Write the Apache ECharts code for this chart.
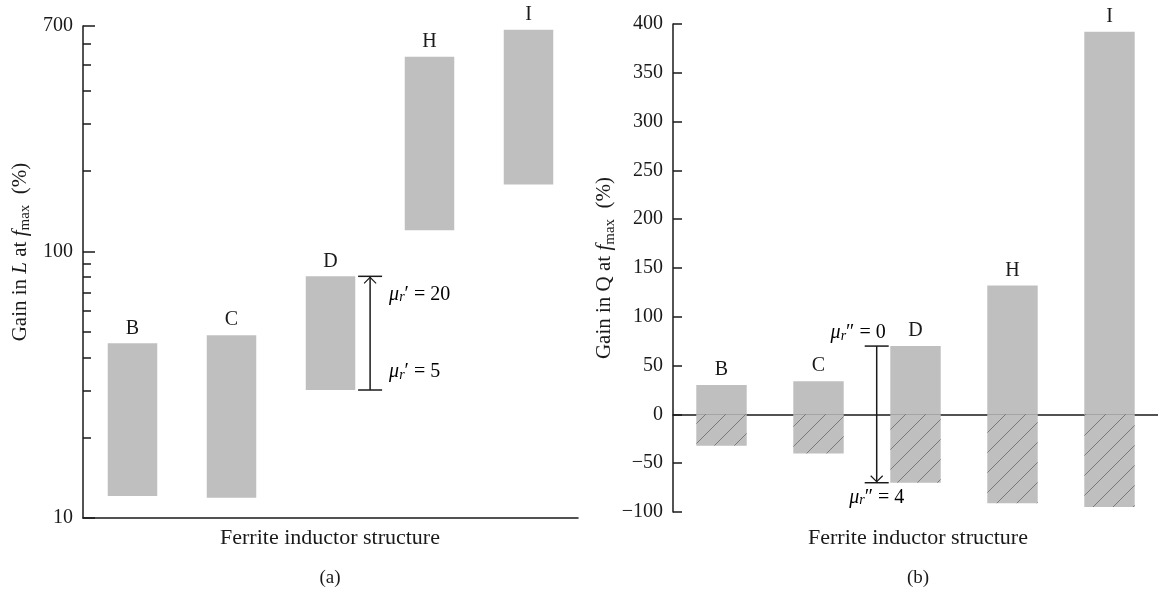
<!DOCTYPE html>
<html>
<head>
    <meta charset="UTF-8">
    <title>ferrite gain</title>
    <script src="https://cdn.jsdelivr.net/npm/echarts@6/dist/echarts.min.js"></script>
    <style>
        body, html {
            margin: 0;
            padding: 0;
            background: #fff;
        }

        #chart {
            width: 1158px;
            height: 593px;
        }
    </style>
</head>
<body>
<div id="chart"></div>
<script>
    var categories = ['B', 'C', 'D', 'H', 'I'];
    // (a) gain in L at fmax, each bar runs from low to high (%)
    var gainLLow = [12.1, 11.9, 30.2, 120, 178];
    var gainLHigh = [45.2, 48.5, 80.6, 537, 678];
    // (b) gain in Q at fmax (%)
    var gainQPos = [30, 34, 70, 132, 392];
    var gainQNeg = [-32, -40, -70, -91, -95];
    // axis ticks
    var lMajorTicks = [10, 100, 700];
    var lMinorTicks = [20, 30, 40, 50, 60, 70, 80, 90, 200, 300, 400, 500, 600];
    var qMin = -100, qMax = 400, qStep = 50;

    var FONT = '"Liberation Serif", "DejaVu Serif", serif';
    var INK = '#1a1a1a';
    var GREY = '#bfbfbf';

    // hatch tile for the negative part of (b)
    var tile = document.createElement('canvas');
    tile.width = 20;
    tile.height = 20;
    var tctx = tile.getContext('2d');
    tctx.fillStyle = GREY;
    tctx.fillRect(0, 0, 20, 20);
    tctx.strokeStyle = '#7a7a7a';
    tctx.lineWidth = 1;
    tctx.beginPath();
    tctx.moveTo(-1, 21);
    tctx.lineTo(21, -1);
    tctx.stroke();

    var muRich = {
        mu: {fontFamily: FONT, fontStyle: 'italic', fontSize: 20, color: INK},
        r: {fontFamily: FONT, fontStyle: 'italic', fontSize: 14, color: INK, verticalAlign: 'bottom', lineHeight: 14},
        t: {fontFamily: FONT, fontSize: 20, color: INK}
    };
    var nameRich = {
        t: {fontFamily: FONT, fontSize: 21, color: INK, lineHeight: 26},
        i: {fontFamily: FONT, fontSize: 21, fontStyle: 'italic', color: INK, lineHeight: 26},
        sub: {fontFamily: FONT, fontSize: 15, color: INK, verticalAlign: 'bottom', lineHeight: 19}
    };

    var chart = echarts.init(document.getElementById('chart'), null, {renderer: 'canvas'});

    var leftData = categories.map(function (c, i) {
        return [i, gainLLow[i], gainLHigh[i]];
    });

    function renderRange(params, api) {
        var i = api.value(0);
        var lo = api.coord([i, api.value(1)]);
        var hi = api.coord([i, api.value(2)]);
        var w = api.size([1, 0])[0] * 0.5;
        return {
            type: 'group',
            children: [
                {
                    type: 'rect',
                    shape: {x: lo[0] - w / 2, y: hi[1], width: w, height: lo[1] - hi[1]},
                    style: {fill: GREY}
                },
                {
                    type: 'text',
                    style: {
                        text: categories[i], x: hi[0], y: hi[1] - 5,
                        align: 'center', verticalAlign: 'bottom',
                        font: '20px ' + FONT, fill: INK
                    }
                }
            ]
        };
    }

    // arrow next to D in (a): from mu' = 5 (bottom) up to mu' = 20 (top)
    function renderArrowL(params, api) {
        var i = api.value(0);
        var band = api.size([1, 0])[0];
        var lo = api.coord([i, api.value(1)]);
        var hi = api.coord([i, api.value(2)]);
        var x = lo[0] + band * 0.4;
        var ls = {stroke: INK, lineWidth: 1.5};
        return {
            type: 'group',
            children: [
                {type: 'line', shape: {x1: x, y1: lo[1], x2: x, y2: hi[1]}, style: ls},
                {type: 'line', shape: {x1: x - 12, y1: lo[1], x2: x + 12, y2: lo[1]}, style: ls},
                {type: 'line', shape: {x1: x - 12, y1: hi[1], x2: x + 12, y2: hi[1]}, style: ls},
                {type: 'polyline', shape: {points: [[x - 6, hi[1] + 7], [x, hi[1] + 1], [x + 6, hi[1] + 7]]}, style: {stroke: INK, lineWidth: 1.2, fill: null}},
                {
                    type: 'text',
                    style: {
                        text: '{mu|μ}{r|r}{t|′ = 20}', rich: muRich, x: x + 19, y: hi[1] + 18,
                        align: 'left', verticalAlign: 'middle'
                    }
                },
                {
                    type: 'text',
                    style: {
                        text: '{mu|μ}{r|r}{t|′ = 5}', rich: muRich, x: x + 19, y: lo[1] - 18,
                        align: 'left', verticalAlign: 'middle'
                    }
                }
            ]
        };
    }

    // arrow next to D in (b): from mu'' = 0 (top) down to mu'' = 4 (bottom)
    function renderArrowQ(params, api) {
        var i = api.value(0);
        var band = api.size([1, 0])[0];
        var top = api.coord([i, api.value(1)]);
        var bot = api.coord([i, api.value(2)]);
        var x = top[0] - band * 0.4;
        var ls = {stroke: INK, lineWidth: 1.5};
        return {
            type: 'group',
            children: [
                {type: 'line', shape: {x1: x, y1: top[1], x2: x, y2: bot[1]}, style: ls},
                {type: 'line', shape: {x1: x - 12, y1: top[1], x2: x + 12, y2: top[1]}, style: ls},
                {type: 'line', shape: {x1: x - 12, y1: bot[1], x2: x + 12, y2: bot[1]}, style: ls},
                {type: 'polyline', shape: {points: [[x - 6, bot[1] - 7], [x, bot[1] - 1], [x + 6, bot[1] - 7]]}, style: {stroke: INK, lineWidth: 1.2, fill: null}},
                {
                    type: 'text',
                    style: {
                        text: '{mu|μ}{r|r}{t|″ = 0}', rich: muRich, x: x + 9, y: top[1] - 3,
                        align: 'right', verticalAlign: 'bottom'
                    }
                },
                {
                    type: 'text',
                    style: {
                        text: '{mu|μ}{r|r}{t|″ = 4}', rich: muRich, x: x, y: bot[1] + 5,
                        align: 'center', verticalAlign: 'top'
                    }
                }
            ]
        };
    }

    var dIdx = categories.indexOf('D');
    var axisLine = {show: true, onZero: false, lineStyle: {color: INK, width: 1.5}};

    var option = {
        animation: false,
        grid: [
            {left: 83, right: 580, top: 26, bottom: 75},
            {left: 673, right: -5, top: 24, bottom: 81}
        ],
        xAxis: [
            {
                gridIndex: 0, type: 'category', data: categories,
                axisLine: axisLine, axisTick: {show: false}, axisLabel: {show: false}
            },
            {
                gridIndex: 1, type: 'category', data: categories,
                axisLine: {show: true, onZero: true, lineStyle: {color: INK, width: 1.5}},
                axisTick: {show: false}, axisLabel: {show: false}
            }
        ],
        yAxis: [
            {
                gridIndex: 0, type: 'log', logBase: 10, min: 10, max: 700, position: 'left',
                axisLine: axisLine,
                axisTick: {show: true, inside: true, length: 12, customValues: lMajorTicks, lineStyle: {color: INK, width: 1.5}},
                axisLabel: {customValues: lMajorTicks, fontFamily: FONT, fontSize: 20, color: INK, margin: 10},
                splitLine: {show: false},
                name: '{t|Gain in }{i|L}{t| at }{i|f}{sub|max}{t|  (%)}',
                nameLocation: 'middle', nameGap: 50,
                nameTextStyle: {rich: nameRich, padding: [0, 0, 0, 40]}
            },
            {
                gridIndex: 0, type: 'log', logBase: 10, min: 10, max: 700, position: 'left', offset: 0,
                axisLine: {show: false},
                axisTick: {show: true, inside: true, length: 8, customValues: lMinorTicks, lineStyle: {color: INK, width: 1.5}},
                axisLabel: {show: false},
                splitLine: {show: false}
            },
            {
                gridIndex: 1, type: 'value', min: qMin, max: qMax, interval: qStep,
                axisLine: axisLine,
                axisTick: {show: true, inside: true, length: 9, lineStyle: {color: INK, width: 1.5}},
                axisLabel: {
                    fontFamily: FONT, fontSize: 20, color: INK, margin: 10,
                    formatter: function (v) {
                        return v < 0 ? '\u2212' + Math.abs(v) : String(v);
                    }
                },
                splitLine: {show: false},
                name: '{t|Gain in Q at }{i|f}{sub|max}{t|  (%)}',
                nameLocation: 'middle', nameGap: 52,
                nameTextStyle: {rich: nameRich}
            }
        ],
        graphic: [
            {type: 'text', x: 330, y: 538, style: {text: 'Ferrite inductor structure', font: '22px ' + FONT, fill: INK, align: 'center', verticalAlign: 'middle'}},
            {type: 'text', x: 330, y: 578, style: {text: '(a)', font: '19px ' + FONT, fill: INK, align: 'center', verticalAlign: 'middle'}},
            {type: 'text', x: 918, y: 538, style: {text: 'Ferrite inductor structure', font: '22px ' + FONT, fill: INK, align: 'center', verticalAlign: 'middle'}},
            {type: 'text', x: 918, y: 578, style: {text: '(b)', font: '19px ' + FONT, fill: INK, align: 'center', verticalAlign: 'middle'}}
        ],
        series: [
            {
                type: 'custom', xAxisIndex: 0, yAxisIndex: 0,
                data: leftData, encode: {x: 0, y: [1, 2]},
                renderItem: renderRange
            },
            {
                type: 'custom', xAxisIndex: 0, yAxisIndex: 0, z: 5,
                data: [[dIdx, gainLLow[dIdx], gainLHigh[dIdx]]], encode: {x: 0, y: [1, 2]},
                renderItem: renderArrowL
            },
            {
                type: 'bar', xAxisIndex: 1, yAxisIndex: 2,
                data: gainQPos, barWidth: '52%', barGap: '-100%',
                itemStyle: {color: GREY},
                label: {show: true, position: 'top', distance: 5, formatter: '{b}', fontFamily: FONT, fontSize: 20, color: INK}
            },
            {
                type: 'bar', xAxisIndex: 1, yAxisIndex: 2,
                data: gainQNeg, barWidth: '52%', barGap: '-100%',
                itemStyle: {color: {image: tile, repeat: 'repeat'}}
            },
            {
                type: 'custom', xAxisIndex: 1, yAxisIndex: 2, z: 5,
                data: [[dIdx, gainQPos[dIdx], gainQNeg[dIdx]]], encode: {x: 0, y: [1, 2]},
                renderItem: renderArrowQ
            }
        ]
    };

    chart.setOption(option);
</script>
</body>
</html>
